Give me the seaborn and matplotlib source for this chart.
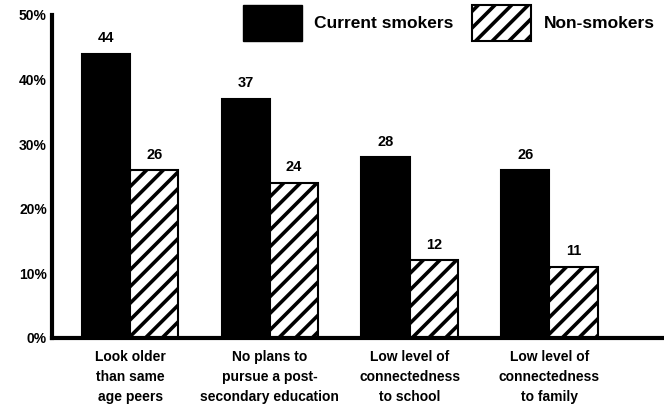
import pandas as pd
import matplotlib.pyplot as plt
import seaborn as sns
from matplotlib.patches import Patch

# data
categories = [
    "Look older\nthan same\nage peers",
    "No plans to\npursue a post-\nsecondary education",
    "Low level of\nconnectedness\nto school",
    "Low level of\nconnectedness\nto family",
]
smokers = [44, 37, 28, 26]
non_smokers = [26, 24, 12, 11]
groups = ["Current smokers", "Non-smokers"]

df = pd.DataFrame({
    "category": categories * 2,
    "group": [groups[0]] * 4 + [groups[1]] * 4,
    "value": smokers + non_smokers,
})

sns.set_style("white")
plt.rcParams["font.family"] = ["Liberation Sans", "DejaVu Sans"]
plt.rcParams["hatch.linewidth"] = 2.6
plt.rcParams["text.color"] = "black"
plt.rcParams["xtick.color"] = "black"
plt.rcParams["ytick.color"] = "black"

fig = plt.figure(figsize=(6.64, 4.12), dpi=100)
ax = fig.add_axes([0.078, 0.18, 0.922, 0.784])

sns.barplot(data=df, x="category", y="value", hue="group",
            palette=["black", "white"], width=0.69, ax=ax,
            edgecolor="black", linewidth=1.5, legend=False)

# hatch the non-smoker bars
for bar in ax.containers[1]:
    bar.set_hatch("//")

for cont in ax.containers:
    ax.bar_label(cont, padding=6, fontsize=10.5, fontweight="bold")

ax.set_ylim(0, 50)
ax.set_xlim(-0.56, 3.82)
ax.set_yticks([0, 10, 20, 30, 40, 50])
ax.set_yticklabels([f"{v}%" for v in [0, 10, 20, 30, 40, 50]],
                   fontsize=10, fontweight="bold")
ax.tick_params(axis="x", pad=9)
for lbl in ax.get_xticklabels():
    lbl.set_fontweight("bold")
    lbl.set_fontsize(10)
    lbl.set_linespacing(1.55)
ax.tick_params(length=0)
ax.set_xlabel("")
ax.set_ylabel("")

sns.despine(ax=ax, top=True, right=True)
ax.spines["left"].set_linewidth(3)
ax.spines["bottom"].set_linewidth(3)
ax.spines["left"].set_color("black")
ax.spines["bottom"].set_color("black")

handles = [
    Patch(facecolor="black", edgecolor="black", label=groups[0]),
    Patch(facecolor="white", edgecolor="black", hatch="//", linewidth=1.5,
          label=groups[1]),
]
fig.legend(handles=handles, loc="upper left", bbox_to_anchor=(0.355, 1.005),
           ncol=2, frameon=False, handlelength=3.4, handleheight=2.8,
           columnspacing=1.1, handletextpad=0.7, borderaxespad=0.0,
           prop={"size": 12.5, "weight": "bold"})

plt.savefig("out.png", dpi=100)
